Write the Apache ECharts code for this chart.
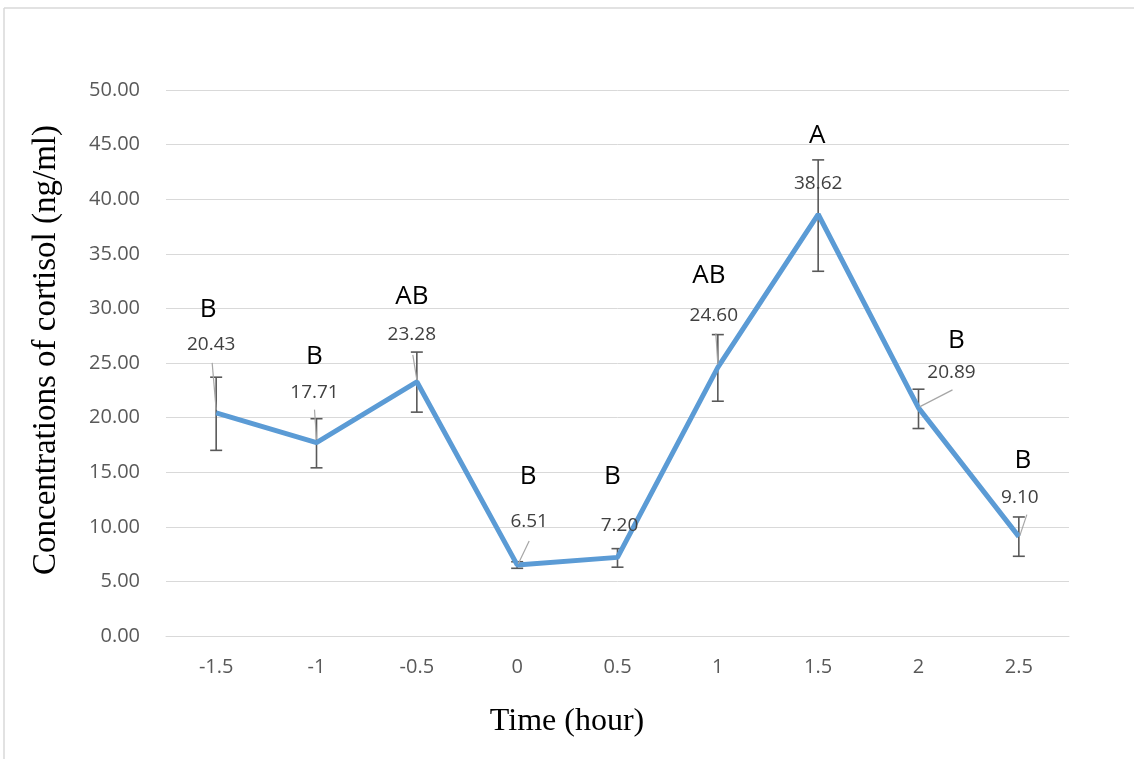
<!DOCTYPE html>
<html>
<head>
<meta charset="utf-8">
<script src="https://cdn.jsdelivr.net/npm/echarts@6/dist/echarts.min.js"></script>
<style>html,body{margin:0;padding:0;background:#fff}#c{width:1134px;height:759px}</style>
</head>
<body>
<div id="c"></div>
<script>
const categories = ['-1.5', '-1', '-0.5', '0', '0.5', '1', '1.5', '2', '2.5'];
const means = [20.43, 17.71, 23.28, 6.51, 7.20, 24.60, 38.62, 20.89, 9.10];
const errLow = [17.0, 15.4, 20.5, 6.2, 6.3, 21.5, 33.4, 19.0, 7.3];
const errHigh = [23.7, 19.9, 26.0, 6.8, 8.0, 27.6, 43.6, 22.6, 10.9];
const letters = ['B', 'B', 'AB', 'B', 'B', 'AB', 'A', 'B', 'B'];
const yTicks = [0, 5, 10, 15, 20, 25, 30, 35, 40, 45, 50];
const xTitle = 'Time (hour)';
const yTitle = 'Concentrations of cortisol (ng/ml)';

// label placement (pixel offsets from the point) — layout only
const valOffset = [[-5,-68],[-2,-50],[-5,-47],[12,-43],[2,-32],[-4,-52],[0,-31],[33,-35],[1,-39]];
const leader = [[[-4,-50],[0,-3]],[[-2,-33],[0,-3]],[[-4,-27],[0,-2]],[[12,-24],[1,-1]],null,[[-2,-34],[0,-3]],null,[[34,-18],[1,-1]],[[8,-22],[1,-1]]];
const letterOffset = [[-8,-103],[-2,-86],[-5,-85],[11,-88],[-5,-81],[-9,-92],[-1,-79],[38,-67],[4,-76]];

const chart = echarts.init(document.getElementById('c'), null, {renderer: 'canvas'});

const errData = categories.map((c, i) => [i, errLow[i], errHigh[i]]);
const lblData = categories.map((c, i) => [i, means[i]]);

chart.setOption({
  backgroundColor: '#ffffff',
  animation: false,
  grid: {left: 166, right: 65, top: 90, bottom: 123},
  graphic: [
    {type: 'line', shape: {x1: 4, y1: 8, x2: 1134, y2: 8}, style: {stroke: '#d9d9d9', lineWidth: 1.5}},
    {type: 'line', shape: {x1: 4, y1: 8, x2: 4, y2: 759}, style: {stroke: '#d9d9d9', lineWidth: 1.5}},
    {type: 'text', x: 567, y: 722, style: {text: xTitle, align: 'center', verticalAlign: 'middle', fill: '#000', fontSize: 32, fontFamily: 'Liberation Serif'}},
    {type: 'text', x: 46, y: 350, rotation: Math.PI / 2, style: {text: yTitle, align: 'center', verticalAlign: 'middle', fill: '#000', fontSize: 33, fontFamily: 'Liberation Serif'}}
  ],
  xAxis: {
    type: 'category',
    data: categories,
    boundaryGap: true,
    axisTick: {show: false},
    axisLine: {show: true, lineStyle: {color: '#d9d9d9', width: 1}},
    axisLabel: {color: '#595959', fontSize: 20, fontFamily: 'Open Sans', margin: 21}
  },
  yAxis: {
    type: 'value',
    min: 0, max: 50, interval: 5,
    axisLine: {show: false},
    axisTick: {show: false},
    splitLine: {lineStyle: {color: '#d9d9d9', width: 1}},
    axisLabel: {
      color: '#595959', fontSize: 20, fontFamily: 'Open Sans', margin: 26,
      formatter: v => yTicks.includes(v) ? v.toFixed(2) : ''
    }
  },
  series: [
    {
      type: 'custom',
      name: 'err',
      z: 2,
      data: errData,
      renderItem: function (params, api) {
        const x = api.coord([api.value(0), 0])[0];
        const yl = api.coord([api.value(0), api.value(1)])[1];
        const yh = api.coord([api.value(0), api.value(2)])[1];
        const w = 6;
        const st = {stroke: '#595959', lineWidth: 1.6};
        return {type: 'group', children: [
          {type: 'line', shape: {x1: x, y1: yl, x2: x, y2: yh}, style: st},
          {type: 'line', shape: {x1: x - w, y1: yl, x2: x + w, y2: yl}, style: st},
          {type: 'line', shape: {x1: x - w, y1: yh, x2: x + w, y2: yh}, style: st}
        ]};
      }
    },
    {
      type: 'line',
      z: 3,
      data: means,
      symbol: 'none',
      lineStyle: {color: '#5b9bd5', width: 5},
      itemStyle: {color: '#5b9bd5'}
    },
    {
      type: 'custom',
      name: 'labels',
      z: 4,
      data: lblData,
      renderItem: function (params, api) {
        const i = params.dataIndex;
        const p = api.coord([api.value(0), api.value(1)]);
        const children = [];
        const ld = leader[i];
        if (ld) {
          children.push({type: 'line', shape: {x1: p[0] + ld[0][0], y1: p[1] + ld[0][1], x2: p[0] + ld[1][0], y2: p[1] + ld[1][1]}, style: {stroke: '#a6a6a6', lineWidth: 1.2}});
        }
        children.push({type: 'text', style: {
          text: means[i].toFixed(2), x: p[0] + valOffset[i][0], y: p[1] + valOffset[i][1],
          align: 'center', verticalAlign: 'middle', fill: '#404040', fontSize: 19, fontFamily: 'Open Sans'
        }});
        children.push({type: 'text', style: {
          text: letters[i], x: p[0] + letterOffset[i][0], y: p[1] + letterOffset[i][1],
          align: 'center', verticalAlign: 'middle', fill: '#000000', fontSize: 26, fontFamily: 'Open Sans'
        }});
        return {type: 'group', children: children};
      }
    }
  ]
});
</script>
</body>
</html>
